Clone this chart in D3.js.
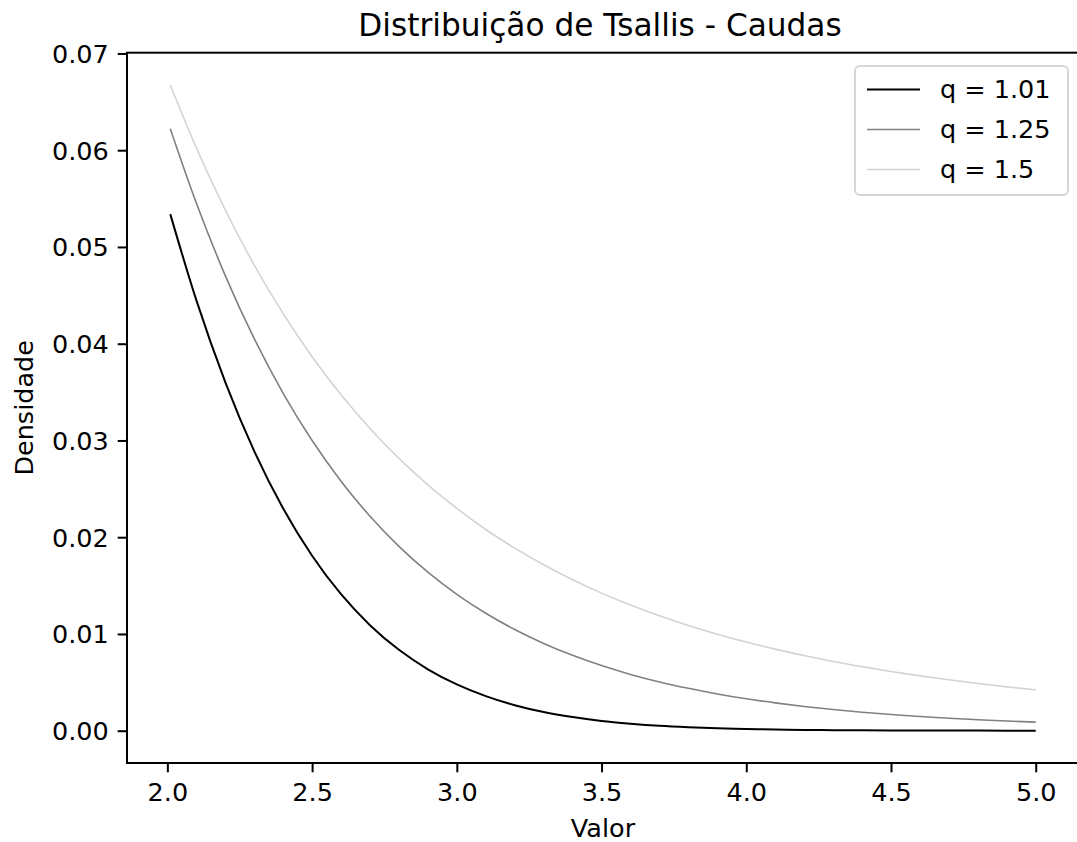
<!DOCTYPE html>
<html>
<head>
<meta charset="utf-8">
<script src="https://cdn.jsdelivr.net/npm/d3@7"></script>
<style>
  html, body { margin: 0; padding: 0; background: #fff; }
  svg { display: block; overflow: hidden; }
  text { font-family: "DejaVu Sans", sans-serif; fill: #000; }
</style>
</head>
<body>
<svg id="chart" width="1077" height="842"></svg>
<script>
// Sample positions along the tail (Valor)
const xValues = [2.01, 2.1, 2.2, 2.3, 2.4, 2.5, 2.6, 2.7, 2.8, 2.9, 3.0,
                 3.1, 3.2, 3.3, 3.4, 3.5, 3.6, 3.7, 3.8, 3.9, 4.0,
                 4.1, 4.2, 4.3, 4.4, 4.5, 4.6, 4.7, 4.8, 4.9, 5.0];

// Density for each q
const densQ101 = [0.05339, 0.04450, 0.03604, 0.02890, 0.02297, 0.01809, 0.01411, 0.01091, 0.00836, 0.00635, 0.00478,
                  0.00357, 0.00264, 0.00193, 0.00141, 0.00101, 0.00073, 0.00051, 0.00036, 0.00025, 0.00018,
                  0.00012, 0.00008, 0.00006, 0.00004, 0.00003, 0.00002, 0.00001, 0.00001, 0.00000, 0.00000];
const densQ125 = [0.06222, 0.05454, 0.04704, 0.04052, 0.03487, 0.02999, 0.02579, 0.02217, 0.01906, 0.01639, 0.01410,
                  0.01214, 0.01046, 0.00902, 0.00779, 0.00673, 0.00582, 0.00504, 0.00438, 0.00380, 0.00330,
                  0.00288, 0.00251, 0.00219, 0.00191, 0.00168, 0.00147, 0.00129, 0.00114, 0.00100, 0.00088];
const densQ150 = [0.06674, 0.06025, 0.05382, 0.04813, 0.04311, 0.03866, 0.03473, 0.03124, 0.02815, 0.02541, 0.02297,
                  0.02080, 0.01887, 0.01715, 0.01560, 0.01422, 0.01299, 0.01188, 0.01088, 0.00998, 0.00916,
                  0.00843, 0.00777, 0.00716, 0.00662, 0.00612, 0.00567, 0.00526, 0.00488, 0.00453, 0.00422];

const seriesLabels = ["q = 1.01", "q = 1.25", "q = 1.5"];
const xTicks = [2.0, 2.5, 3.0, 3.5, 4.0, 4.5, 5.0];
const yTicks = [0.00, 0.01, 0.02, 0.03, 0.04, 0.05, 0.06, 0.07];

const titleText = "Distribuição de Tsallis - Caudas";
const xLabelText = "Valor";
const yLabelText = "Densidade";

const series = [
  { label: seriesLabels[0], values: densQ101, color: "#000000", width: 2.0 },
  { label: seriesLabels[1], values: densQ125, color: "#808080", width: 1.6 },
  { label: seriesLabels[2], values: densQ150, color: "#d3d3d3", width: 1.6 }
];

const svg = d3.select("#chart");
const plot = { left: 127, top: 52.7, right: 1079, bottom: 763 };
const FS = 25.5;

// Axis limits with 5% padding around the data
function padded(ext) {
  const span = ext[1] - ext[0];
  return [ext[0] - span * 0.05, ext[1] + span * 0.05];
}
const allY = densQ101.concat(densQ125, densQ150);
const x = d3.scaleLinear().domain(padded(d3.extent(xValues))).range([plot.left, plot.right]);
const y = d3.scaleLinear().domain(padded(d3.extent(allY))).range([plot.bottom, plot.top]);

// Curves
const line = d3.line().x(d => d[0]).y(d => d[1]).curve(d3.curveMonotoneX);
const g = svg.append("g");
series.forEach(s => {
  g.append("path")
    .attr("d", line(xValues.map((xv, i) => [x(xv), y(s.values[i])])))
    .attr("fill", "none")
    .attr("stroke", s.color)
    .attr("stroke-width", s.width)
    .attr("stroke-linejoin", "round");
});

// Axes
const xAxis = d3.axisBottom(x).tickValues(xTicks).tickFormat(d3.format(".1f"))
  .tickSizeInner(9.3).tickSizeOuter(0).tickPadding(9);
const yAxis = d3.axisLeft(y).tickValues(yTicks).tickFormat(d3.format(".2f"))
  .tickSizeInner(9.3).tickSizeOuter(0).tickPadding(9);

const gx = svg.append("g").attr("transform", `translate(0,${plot.bottom})`).call(xAxis);
const gy = svg.append("g").attr("transform", `translate(${plot.left},0)`).call(yAxis);
[gx, gy].forEach(a => {
  a.select(".domain").remove();
  a.selectAll(".tick line").attr("stroke", "#000").attr("stroke-width", 2);
  a.selectAll(".tick text").style("font-size", FS + "px").attr("fill", "#000")
    .style("font-family", "DejaVu Sans, sans-serif");
});
gx.selectAll(".tick text").attr("dy", "0.76em");
gy.selectAll(".tick text").attr("dy", "0.35em");

// Frame
svg.append("rect")
  .attr("x", plot.left).attr("y", plot.top)
  .attr("width", plot.right - plot.left).attr("height", plot.bottom - plot.top)
  .attr("fill", "none").attr("stroke", "#000").attr("stroke-width", 2);

// Title and axis labels
svg.append("text").attr("x", 600).attr("y", 36)
  .attr("text-anchor", "middle").style("font-size", "31.2px").text(titleText);
svg.append("text").attr("x", (plot.left + plot.right) / 2).attr("y", 837)
  .attr("text-anchor", "middle").style("font-size", FS + "px").text(xLabelText);
svg.append("text").attr("transform", `translate(33,${(plot.top + plot.bottom) / 2}) rotate(-90)`)
  .attr("text-anchor", "middle").style("font-size", FS + "px").text(yLabelText);

// Legend
const lg = svg.append("g").attr("transform", "translate(855,66)");
lg.append("rect").attr("x", 0).attr("y", 0).attr("width", 213).attr("height", 129)
  .attr("rx", 5).attr("ry", 5)
  .attr("fill", "rgba(255,255,255,0.8)").attr("stroke", "#d6d6d6").attr("stroke-width", 2);
series.forEach((s, i) => {
  const yy = 23.5 + i * 40;
  lg.append("line").attr("x1", 12).attr("x2", 65).attr("y1", yy).attr("y2", yy)
    .attr("stroke", s.color).attr("stroke-width", s.width);
  lg.append("text").attr("x", 85).attr("y", yy).attr("dy", "0.35em")
    .style("font-size", FS + "px").text(s.label);
});
</script>
</body>
</html>
